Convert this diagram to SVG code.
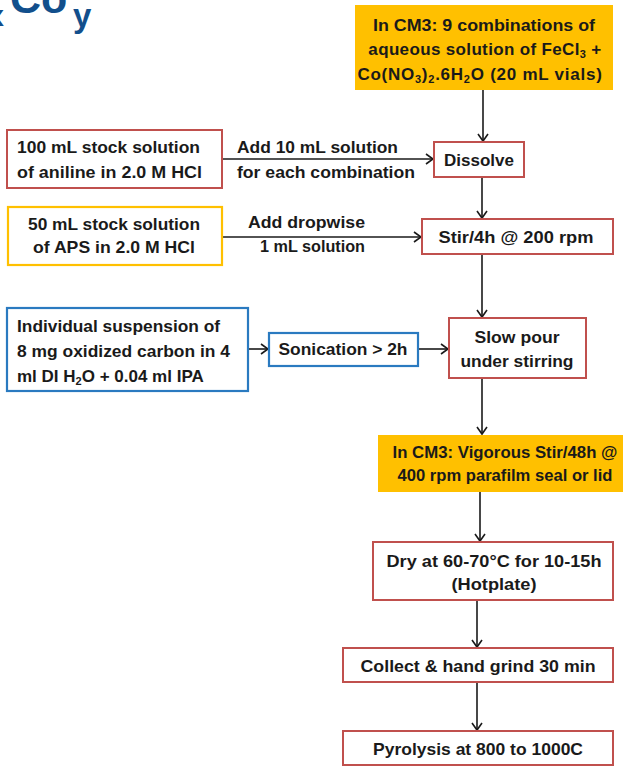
<svg xmlns="http://www.w3.org/2000/svg" width="625" height="771" viewBox="0 0 625 771">
<defs>
<style>
.t{font-family:"Liberation Sans",Arial,sans-serif;font-weight:bold;font-size:17px;fill:#1a1a1a}
.c{text-anchor:middle}
.red{fill:#fff;stroke:#c0504d;stroke-width:2}
.yel{fill:#ffc000;stroke:none}
.yelb{fill:#fff;stroke:#ffc000;stroke-width:2.2}
.blu{fill:#fff;stroke:#2a7ac0;stroke-width:2.2}
.con{stroke:#1a1a1a;stroke-width:1.6;fill:none;marker-end:url(#ah)}
.title{font-family:"Liberation Sans",Arial,sans-serif;font-weight:bold;fill:#124f8c}
</style>
<marker id="ah" markerWidth="12" markerHeight="12" refX="9" refY="6" orient="auto" markerUnits="userSpaceOnUse">
<path d="M2,1 L9,6 L2,11" fill="none" stroke="#1a1a1a" stroke-width="1.6"/>
</marker>
</defs>
<rect width="625" height="771" fill="#fff"/>

<g id="title">
<text class="title" x="4" y="26" font-size="30" text-anchor="end">x</text>
<text class="title" x="10" y="13" font-size="43">Co</text>
<text class="title" x="73" y="27" font-size="33">y</text>
</g>

<g id="connectors">
<line class="con" x1="483" y1="90" x2="483" y2="141"/>
<line class="con" x1="222" y1="159" x2="433" y2="159"/>
<line class="con" x1="482" y1="177" x2="482" y2="218"/>
<line class="con" x1="222" y1="237" x2="421" y2="237"/>
<line class="con" x1="482" y1="254" x2="482" y2="317"/>
<line class="con" x1="248" y1="349" x2="268" y2="349"/>
<line class="con" x1="418" y1="349" x2="448" y2="349"/>
<line class="con" x1="482" y1="378" x2="482" y2="434"/>
<line class="con" x1="480" y1="492" x2="480" y2="541"/>
<line class="con" x1="477" y1="600" x2="477" y2="647"/>
<line class="con" x1="477" y1="682" x2="477" y2="730"/>
</g>

<g id="n-top">
<rect class="yel" x="355" y="5" width="258" height="85"/>
<text class="t c" x="484" y="31" textLength="222" lengthAdjust="spacingAndGlyphs">In CM3: 9 combinations of</text>
<text class="t c" x="485" y="55" letter-spacing="0.35">aqueous solution of FeCl<tspan font-size="11" dy="3">3</tspan><tspan dy="-3"> +</tspan></text>
<text class="t c" x="480" y="80" letter-spacing="0.75">Co(NO<tspan font-size="11" dy="3">3</tspan><tspan dy="-3">)</tspan><tspan font-size="11" dy="3">2</tspan><tspan dy="-3">.6H</tspan><tspan font-size="11" dy="3">2</tspan><tspan dy="-3">O (20 mL vials)</tspan></text>
</g>

<g id="n-aniline">
<rect class="red" x="7" y="130" width="215" height="58"/>
<text class="t" x="17" y="153" textLength="183" lengthAdjust="spacingAndGlyphs">100 mL stock solution</text>
<text class="t" x="17" y="178" textLength="185" lengthAdjust="spacingAndGlyphs">of aniline in 2.0 M HCl</text>
</g>

<g id="lbl-add10">
<text class="t" x="237" y="153" textLength="161" lengthAdjust="spacingAndGlyphs">Add 10 mL solution</text>
<text class="t" x="237" y="178" textLength="178" lengthAdjust="spacingAndGlyphs">for each combination</text>
</g>

<g id="n-dissolve">
<rect class="red" x="434" y="142" width="90" height="35"/>
<text class="t c" x="479" y="166">Dissolve</text>
</g>

<g id="n-aps">
<rect class="yelb" x="8" y="207" width="214" height="58"/>
<text class="t c" x="114" y="230" textLength="172" lengthAdjust="spacingAndGlyphs">50 mL stock solution</text>
<text class="t c" x="114" y="253" textLength="162" lengthAdjust="spacingAndGlyphs">of APS in 2.0 M HCl</text>
</g>

<g id="lbl-dropwise">
<text class="t" x="248" y="228" textLength="117" lengthAdjust="spacingAndGlyphs">Add dropwise</text>
<text class="t" x="260" y="252" textLength="105" lengthAdjust="spacingAndGlyphs">1 mL solution</text>
</g>

<g id="n-stir">
<rect class="red" x="422" y="219" width="191" height="35"/>
<text class="t c" x="516" y="243" textLength="155" lengthAdjust="spacingAndGlyphs">Stir/4h @ 200 rpm</text>
</g>

<g id="n-carbon">
<rect class="blu" x="7" y="308" width="241" height="83"/>
<text class="t" x="17" y="332" textLength="203" lengthAdjust="spacingAndGlyphs">Individual suspension of</text>
<text class="t" x="17" y="357" textLength="213" lengthAdjust="spacingAndGlyphs">8 mg oxidized carbon in 4</text>
<text class="t" x="17" y="382">ml DI H<tspan font-size="11" dy="3">2</tspan><tspan dy="-3">O + 0.04 ml IPA</tspan></text>
</g>

<g id="n-sonication">
<rect class="blu" x="269" y="333" width="149" height="33"/>
<text class="t c" x="343" y="355" textLength="129" lengthAdjust="spacingAndGlyphs">Sonication &gt; 2h</text>
</g>

<g id="n-slowpour">
<rect class="red" x="449" y="318" width="137" height="60"/>
<text class="t c" x="517" y="343" textLength="85" lengthAdjust="spacingAndGlyphs">Slow pour</text>
<text class="t c" x="517" y="367" textLength="113" lengthAdjust="spacingAndGlyphs">under stirring</text>
</g>

<g id="n-vigorous">
<rect class="yel" x="378" y="435" width="245" height="57"/>
<text class="t c" x="505" y="458" textLength="225" lengthAdjust="spacingAndGlyphs">In CM3: Vigorous Stir/48h @</text>
<text class="t c" x="505" y="481" textLength="215" lengthAdjust="spacingAndGlyphs">400 rpm parafilm seal or lid</text>
</g>

<g id="n-dry">
<rect class="red" x="373" y="542" width="240" height="58"/>
<text class="t c" x="494" y="567" textLength="215" lengthAdjust="spacingAndGlyphs">Dry at 60-70°C for 10-15h</text>
<text class="t c" x="494" y="590" textLength="85" lengthAdjust="spacingAndGlyphs">(Hotplate)</text>
</g>

<g id="n-collect">
<rect class="red" x="343" y="648" width="270" height="34"/>
<text class="t c" x="478" y="672" textLength="235" lengthAdjust="spacingAndGlyphs">Collect &amp; hand grind 30 min</text>
</g>

<g id="n-pyrolysis">
<rect class="red" x="343" y="731" width="270" height="34"/>
<text class="t c" x="478" y="755" textLength="210" lengthAdjust="spacingAndGlyphs">Pyrolysis at 800 to 1000C</text>
</g>
</svg>
